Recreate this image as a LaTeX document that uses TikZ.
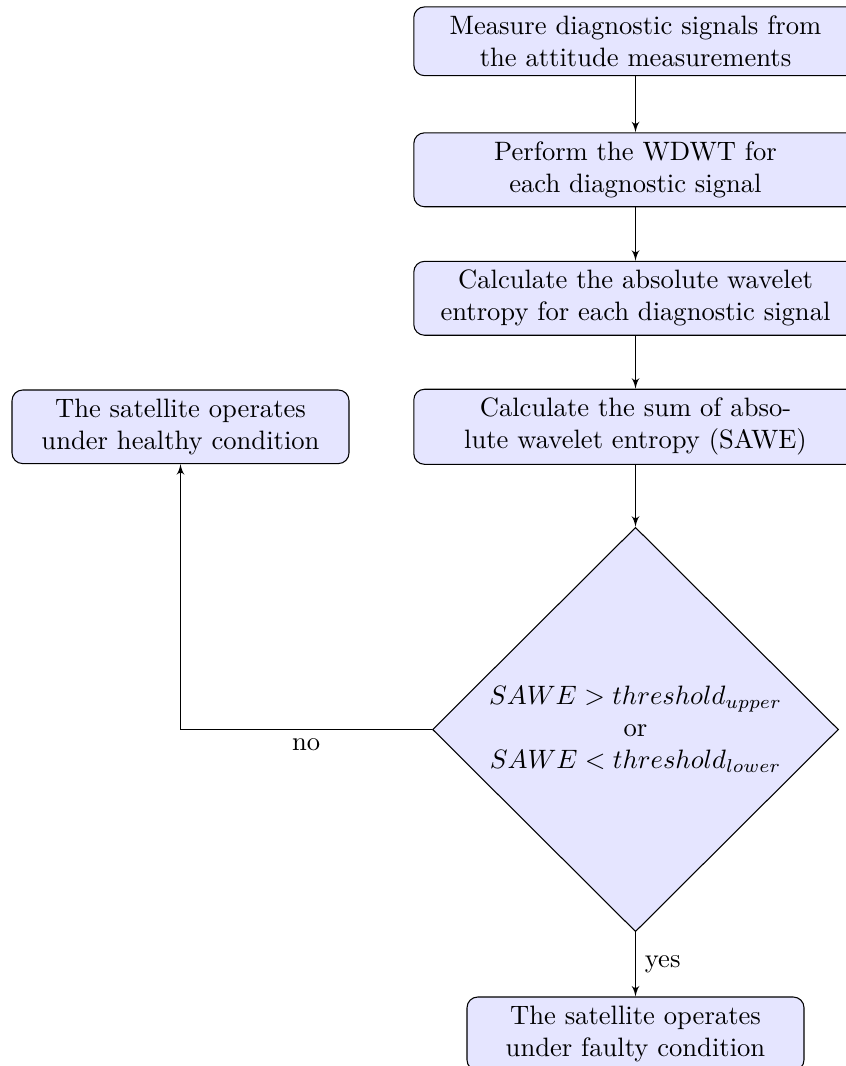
\documentclass[tikz,border=0pt]{standalone}
\usetikzlibrary{shapes.geometric,arrows}
\begin{document}
\begin{tikzpicture}[x=0.3759pt,y=-0.3759pt,
  block/.style={rectangle, draw, fill=blue!10, text width=16em, align=center, rounded corners},
  sideblock/.style={block, text width=12em},
  decision/.style={diamond, draw, fill=blue!10, align=center, inner sep=0pt,
    minimum width=152.6pt, minimum height=152pt},
  line/.style={draw, -latex'}]
\useasboundingbox (0,0) rectangle (846,1066);
% main column
\node[block] (measure) at (635.5,41.3) {Measure diagnostic signals from the attitude measurements};
\node[block] (wdwt) at (635.5,169.8) {Perform the WDWT for each diagnostic signal};
\node[block] (entropy) at (635.5,298.3) {Calculate the absolute wavelet entropy for each diagnostic signal};
\node[block] (sawe) at (635.5,426.8) {Calculate the sum of absolute wavelet entropy (SAWE)};
\node[decision] (decide) at (635.5,729.5) {$SAWE > threshold_{upper}$\\or\\$SAWE < threshold_{lower}$};
\node[sideblock] (faulty) at (635.5,1033.8) {The satellite operates under faulty condition};
% outcome on the left
\node[sideblock] (healthy) at (180.5,426.8) {The satellite operates under healthy condition};
% connectors
\path[line] (measure) -- (wdwt);
\path[line] (wdwt) -- (entropy);
\path[line] (entropy) -- (sawe);
\path[line] (sawe) -- (decide);
\path[line] (decide) -- node[right] {yes} (faulty);
\path[line] (decide) -| node[pos=0.25, below] {no} (healthy);
\end{tikzpicture}
\end{document}
